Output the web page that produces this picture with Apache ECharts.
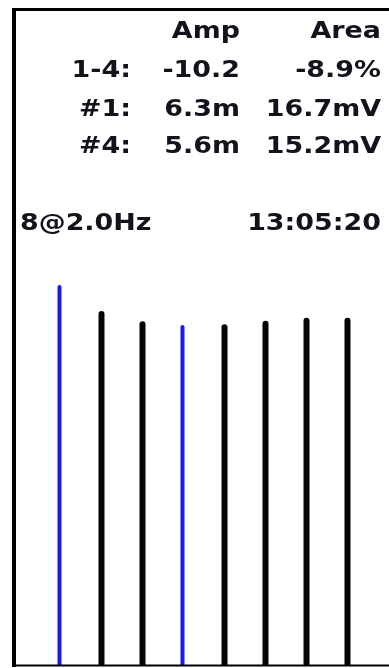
<!DOCTYPE html>
<html><head><meta charset="utf-8">
<script src="https://cdn.jsdelivr.net/npm/echarts@6/dist/echarts.min.js"></script>
<style>html,body{margin:0;padding:0;background:#fff}#c{width:389px;height:668px}</style>
</head><body><div id="c"></div>
<script>
// ---- data ----
const categories = ['1', '2', '3', '4', '5', '6', '7', '8'];
const amplitudes = [6.3, 5.87, 5.7, 5.64, 5.65, 5.71, 5.76, 5.76];
const highlighted = [0, 3];
const headerCols = ['Amp', 'Area'];
const rowLabels = ['1-4:', '#1:', '#4:'];
const ampValues = ['-10.2', '6.3m', '5.6m'];
const areaValues = ['-8.9%', '16.7mV', '15.2mV'];
const rateText = '8@2.0Hz';
const timeText = '13:05:20';

// ---- layout / style ----
const FONT = 'bold 23px "DejaVu Sans"';
const SX = 1.17;
const TXT = '#13131c';
function txt(s, x, y, align) {
  return { type: 'text', x: x, y: y, scaleX: SX, z: 10,
    style: { text: s, font: FONT, fill: TXT, align: align, verticalAlign: 'middle' } };
}
const rowsY = [71, 110, 147];
const g = [];
g.push(txt(headerCols[0], 240, 32, 'right'));
g.push(txt(headerCols[1], 381, 32, 'right'));
rowLabels.forEach((l, i) => {
  g.push(txt(l, 131, rowsY[i], 'right'));
  g.push(txt(ampValues[i], 240, rowsY[i], 'right'));
  g.push(txt(areaValues[i], 381, rowsY[i], 'right'));
});
g.push(txt(rateText, 20, 224, 'left'));
g.push(txt(timeText, 381, 224, 'right'));
// frame
g.push({ type: 'line', z: 20, shape: { x1: 14, y1: 8, x2: 14, y2: 667 }, style: { stroke: '#000', lineWidth: 4 } });
g.push({ type: 'line', z: 20, shape: { x1: 12, y1: 9.5, x2: 389, y2: 9.5 }, style: { stroke: '#000', lineWidth: 3 } });
g.push({ type: 'line', z: 20, shape: { x1: 12, y1: 665.5, x2: 389, y2: 665.5 }, style: { stroke: '#000', lineWidth: 2 } });

const chart = echarts.init(document.getElementById('c'), null, { renderer: 'canvas' });
chart.setOption({
  animation: false,
  backgroundColor: '#fff',
  grid: { left: 39, right: 22, top: 62, bottom: 3 },
  xAxis: { type: 'category', data: categories, show: false },
  yAxis: { type: 'value', min: 0, max: 10, show: false },
  series: [
    { type: 'bar', barWidth: 6, barGap: '-100%',
      itemStyle: { color: '#050505', borderRadius: [3, 3, 0, 0] },
      data: amplitudes.map((v, i) => highlighted.includes(i) ? null : v) },
    { type: 'bar', barWidth: 4, barGap: '-100%',
      itemStyle: { color: '#1a1af0', borderRadius: [2, 2, 0, 0] },
      data: amplitudes.map((v, i) => highlighted.includes(i) ? v : null) }
  ],
  graphic: g
});
</script></body></html>
